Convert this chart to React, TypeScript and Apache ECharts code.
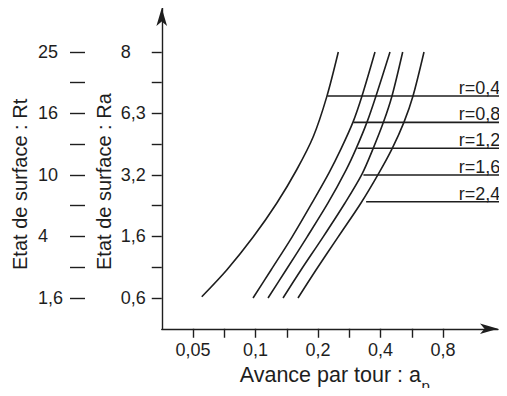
import { useEffect, useRef } from "react";
import * as echarts from "echarts";

const feedTickLabels = ["0,05", "0,1", "0,2", "0,4", "0,8"];
const feedTickValues = [0.05, 0.1, 0.2, 0.4, 0.8];
const raTickLabels = ["0,6", "1,6", "3,2", "6,3", "8"];
const rtTickLabels = ["1,6", "4", "10", "16", "25"];
const radiusLabels = ["r=0,4", "r=0,8", "r=1,2", "r=1,6", "r=2,4"];

const feedR04 = [0.0551, 0.0727, 0.0976, 0.1265, 0.1579, 0.1899, 0.2203, 0.2505];
const levelR04 = [0.04, 0.91, 1.99, 3.08, 4.17, 5.25, 6.54, 8.0];
const feedR08 = [0.0973, 0.1188, 0.1499, 0.1871, 0.2259, 0.2581, 0.2948, 0.3258, 0.3763];
const levelR08 = [0.0, 0.91, 1.98, 3.09, 4.07, 4.85, 5.72, 6.57, 8.0];
const feedR12 = [0.1149, 0.1403, 0.177, 0.2235, 0.2729, 0.3048, 0.3444, 0.3805, 0.4444];
const levelR12 = [0.0, 0.91, 1.98, 3.09, 4.16, 4.85, 5.72, 6.57, 8.0];
const feedR16 = [0.1357, 0.1656, 0.2114, 0.2698, 0.3258, 0.3681, 0.4135, 0.4544, 0.5116];
const levelR16 = [0.0, 0.91, 1.98, 3.09, 4.03, 4.85, 5.72, 6.57, 8.0];
const feedR24 = [0.1602, 0.1956, 0.2497, 0.3222, 0.3934, 0.4544, 0.5191, 0.5736, 0.648];
const levelR24 = [0.0, 0.91, 1.98, 3.09, 4.07, 4.85, 5.72, 6.57, 8.0];

const leaderLevels = [6.57, 5.71, 4.87, 4.0, 3.13];
const leaderStartFeeds = [0.222, 0.296, 0.31, 0.331, 0.341];
const leaderEndFeed = 1.63;

const FEED_BASE = 0.05;
const toU = (a: number) => Math.log2(a / FEED_BASE);

const INK = "#1e1e1e";
const FONT = "Liberation Sans";
const LEVEL_TICKS = [0, 1, 2, 3, 4, 5, 6, 7, 8];
const LEVEL_LABELS = [0, 2, 4, 6, 8];

export default function App() {
  const ref = useRef<HTMLDivElement>(null);

  useEffect(() => {
    if (!ref.current) return;
    const chart = echarts.init(ref.current, undefined, { renderer: "svg" });

    const curves = [
      [feedR04, levelR04],
      [feedR08, levelR08],
      [feedR12, levelR12],
      [feedR16, levelR16],
      [feedR24, levelR24],
    ];

    const curveSeries = curves.map(([f, l], i) => ({
      type: "line",
      name: radiusLabels[i],
      data: f.map((a, k) => [toU(a), l[k]]),
      smooth: 0.3,
      showSymbol: false,
      symbol: "none",
      silent: true,
      lineStyle: { color: INK, width: 1.6 },
      xAxisIndex: 0,
      yAxisIndex: 0,
    }));

    const leaderSeries = leaderLevels.map((lv, i) => ({
      type: "line",
      data: [
        [toU(leaderStartFeeds[i]), lv],
        {
          value: [toU(leaderEndFeed), lv],
          label: {
            show: true,
            formatter: radiusLabels[i],
            position: "left",
            distance: 7,
            offset: [0, -8],
            fontFamily: FONT,
            fontSize: 18,
            color: INK,
          },
        },
      ],
      clip: false,
      symbol: "circle",
      symbolSize: 0,
      showSymbol: true,
      silent: true,
      lineStyle: { color: INK, width: 1.6 },
      xAxisIndex: 0,
      yAxisIndex: 0,
    }));

    const tickLine = { color: INK, width: 1.4 };

    chart.setOption({
      animation: false,
      backgroundColor: "#ffffff",
      grid: [
        { left: 161.75, right: 9, top: 8, bottom: 67.25, containLabel: false },
        { left: 85, width: 10, top: 8, bottom: 67.25, containLabel: false },
      ],
      xAxis: [
        {
          type: "value",
          gridIndex: 0,
          min: -0.5,
          max: 4.88,
          splitLine: { show: false },
          axisLine: {
            show: true,
            onZero: false,
            symbol: ["none", "arrow"],
            symbolSize: [8, 18],
            lineStyle: { color: INK, width: 1.4 },
          },
          axisTick: {
            show: true,
            length: 9,
            customValues: [0, 0.5, 1, 1.5, 2, 2.5, 3, 3.5, 4],
            lineStyle: tickLine,
          },
          axisLabel: {
            customValues: feedTickValues.map(toU),
            formatter: (v: number) => feedTickLabels[Math.round(v)],
            margin: 12,
            fontFamily: FONT,
            fontSize: 18,
            color: INK,
          },
        },
        {
          type: "value",
          gridIndex: 1,
          min: 0,
          max: 1,
          show: false,
        },
      ],
      yAxis: [
        {
          type: "value",
          gridIndex: 0,
          min: -1,
          max: 9.43,
          splitLine: { show: false },
          axisLine: {
            show: true,
            onZero: false,
            symbol: ["none", "arrow"],
            symbolSize: [8, 18],
            lineStyle: { color: INK, width: 1.4 },
          },
          axisTick: {
            show: true,
            length: 10,
            customValues: LEVEL_TICKS,
            lineStyle: tickLine,
          },
          axisLabel: {
            customValues: LEVEL_LABELS,
            formatter: (v: number) => raTickLabels[Math.round(v / 2)],
            align: "left",
            margin: 41,
            fontFamily: FONT,
            fontSize: 18,
            color: INK,
          },
        },
        {
          type: "value",
          gridIndex: 1,
          position: "left",
          min: -1,
          max: 9.43,
          splitLine: { show: false },
          axisLine: { show: false, onZero: false },
          axisTick: {
            show: true,
            length: 15,
            customValues: LEVEL_TICKS,
            lineStyle: tickLine,
          },
          axisLabel: {
            customValues: LEVEL_LABELS,
            formatter: (v: number) => rtTickLabels[Math.round(v / 2)],
            align: "left",
            margin: 47,
            fontFamily: FONT,
            fontSize: 18,
            color: INK,
          },
        },
      ],
      graphic: [
        {
          type: "text",
          x: 19.5,
          y: 270,
          rotation: Math.PI / 2,
          style: {
            text: "Etat de surface : Rt",
            font: `20px "${FONT}"`,
            fill: INK,
            textAlign: "left",
            textVerticalAlign: "middle",
          },
          silent: true,
        },
        {
          type: "text",
          x: 103.5,
          y: 270,
          rotation: Math.PI / 2,
          style: {
            text: "Etat de surface : Ra",
            font: `20px "${FONT}"`,
            fill: INK,
            textAlign: "left",
            textVerticalAlign: "middle",
          },
          silent: true,
        },
        {
          type: "text",
          x: 421,
          y: 375,
          style: {
            text: "Avance par tour : a",
            font: `21.5px "${FONT}"`,
            fill: INK,
            textAlign: "right",
            textVerticalAlign: "middle",
          },
          silent: true,
        },
        {
          type: "text",
          x: 421.5,
          y: 385.5,
          style: {
            text: "p",
            font: `15px "${FONT}"`,
            fill: INK,
            textAlign: "left",
            textVerticalAlign: "middle",
          },
          silent: true,
        },
      ],
      series: [...curveSeries, ...leaderSeries],
    });

    return () => chart.dispose();
  }, []);

  return <div ref={ref} style={{ width: 507, height: 396, margin: -8 }} />;
}
